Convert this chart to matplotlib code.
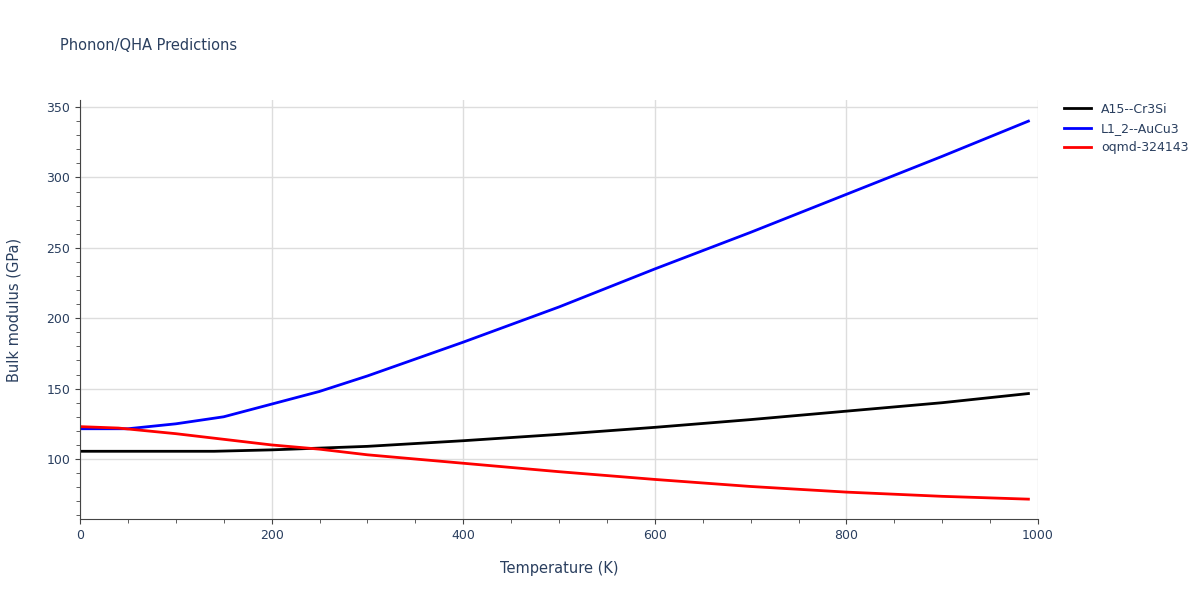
import matplotlib.pyplot as plt
from matplotlib.ticker import MultipleLocator

# Data
t_black = [0, 140, 200, 300, 400, 500, 600, 700, 800, 900, 990]
b_black = [105.5, 105.5, 106.5, 109, 113, 117.5, 122.5, 128, 134, 140, 146.5]
t_blue = [0, 50, 100, 150, 200, 250, 300, 400, 500, 600, 700, 800, 900, 990]
b_blue = [121.5, 121.5, 125, 130, 139, 148, 159, 183, 208, 235, 261, 288, 315, 340]
t_red = [0, 40, 100, 200, 250, 300, 400, 500, 600, 700, 800, 900, 990]
b_red = [123, 122, 118, 110, 107, 103, 97, 91, 85.5, 80.5, 76.5, 73.5, 71.5]

series = [("A15--Cr3Si", t_black, b_black, "black"),
          ("L1_2--AuCu3", t_blue, b_blue, "blue"),
          ("oqmd-324143", t_red, b_red, "red")]

fig = plt.figure(figsize=(12, 6), dpi=100)
ax = fig.add_axes([80/1200, 1 - 519/600, 958/1200, 419/600])
for name, t, b, c in series:
    ax.plot(t, b, color=c, lw=2, label=name)

ax.set_xlim(0, 1000)
ax.set_ylim(57.4, 355)
ax.xaxis.set_major_locator(MultipleLocator(200))
ax.xaxis.set_minor_locator(MultipleLocator(50))
ax.yaxis.set_major_locator(MultipleLocator(50))
ax.yaxis.set_minor_locator(MultipleLocator(10))
ax.grid(True, which="major", color="#dddddd", lw=1)
ax.set_axisbelow(True)
for s in ["top", "right"]:
    ax.spines[s].set_visible(False)
ax.spines["left"].set_color("#444444")
ax.spines["bottom"].set_color("#444444")
ax.tick_params(colors="#444444", labelcolor="#2a3f5f", labelsize=9)
ax.tick_params(which="minor", length=3, colors="#444444")
ax.set_xlabel("Temperature (K)", color="#2a3f5f", fontsize=10.5, labelpad=14)
ax.set_ylabel("Bulk modulus (GPa)", color="#2a3f5f", fontsize=10.5, labelpad=18)
fig.text(60/1200, 1 - 45/600, "Phonon/QHA Predictions", color="#2a3f5f", fontsize=10.5, va="center")
leg = ax.legend(loc="upper left", bbox_to_anchor=(1.015, 1.02), frameon=False, fontsize=9,
                handlelength=2.2, labelcolor="#2a3f5f")
fig.savefig("out.png")
